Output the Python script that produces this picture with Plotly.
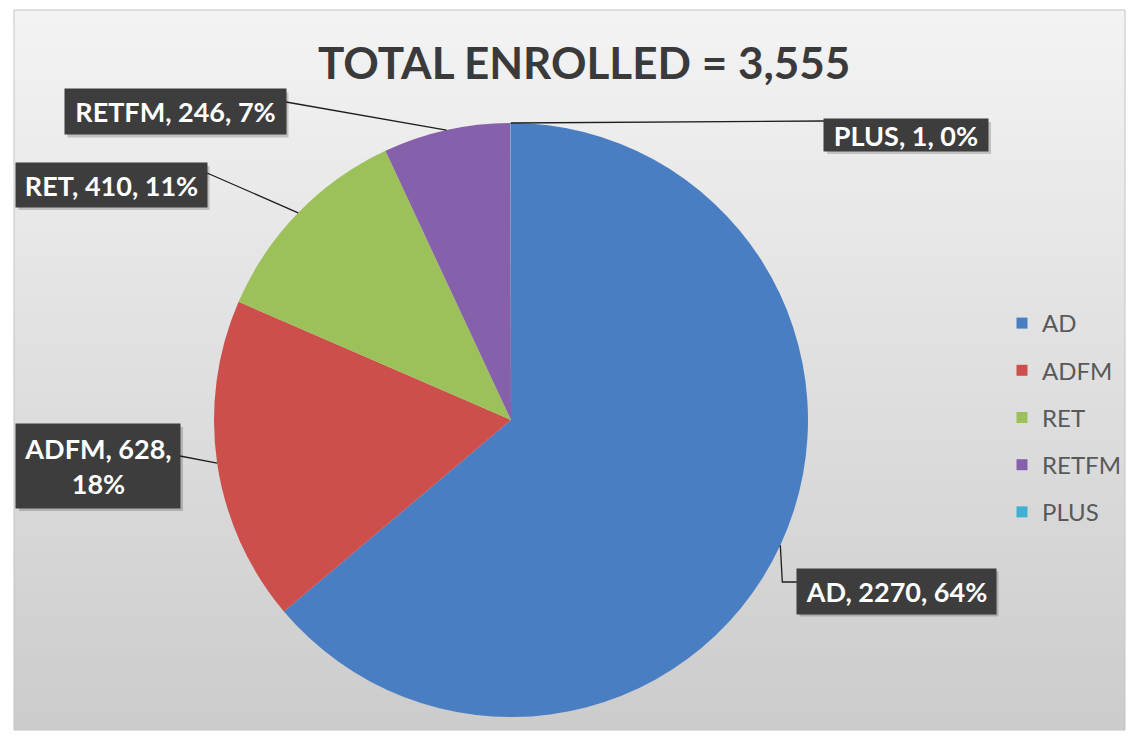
import math
import plotly.graph_objects as go

# Enrollment by program
categories = ["AD", "ADFM", "RET", "RETFM", "PLUS"]
enrolled = [2270, 628, 410, 246, 1]
pct_text = ["64%", "18%", "11%", "7%", "0%"]
colors = ["#4a7ec3", "#cd4f4b", "#9cc15a", "#8660aa", "#3fb0d0"]

W, H = 1132, 741
total = sum(enrolled)

# pie geometry in pixels (from top-left)
CX, CY, R = 511, 420, 297


def px_to_paper(x, y):
    return x / W, 1 - y / H


fig = go.Figure()

fig.add_trace(go.Pie(
    labels=categories,
    values=enrolled,
    sort=False,
    direction="clockwise",
    rotation=0,
    textinfo="none",
    hoverinfo="label+value+percent",
    marker=dict(colors=colors, line=dict(width=0)),
    showlegend=False,
    domain=dict(x=[(CX - R) / W, (CX + R) / W],
                y=[1 - (CY + R) / H, 1 - (CY - R) / H]),
))

# legend entries as empty marker traces so the row spacing can be set
for name, col in zip(categories, colors):
    fig.add_trace(go.Scatter(
        x=[None], y=[None], mode="markers", name=name, legendgroup=name,
        marker=dict(symbol="square", size=11, color=col),
        hoverinfo="skip",
    ))

shapes = []

# soft vertical gradient background inside a light frame
x0, x1, y0, y1 = 14, 1125, 10, 730
steps = 60
top_rgb = (243, 243, 243)
bot_rgb = (204, 204, 204)
for i in range(steps):
    t = i / (steps - 1)
    c = tuple(round(a + (b - a) * t) for a, b in zip(top_rgb, bot_rgb))
    ya = y0 + (y1 - y0) * i / steps
    yb = y0 + (y1 - y0) * (i + 1) / steps + 1
    pa = px_to_paper(x0, ya)
    pb = px_to_paper(x1, min(yb, y1))
    shapes.append(dict(type="rect", xref="paper", yref="paper",
                       x0=pa[0], x1=pb[0], y0=pb[1], y1=pa[1],
                       fillcolor="rgb(%d,%d,%d)" % c, line=dict(width=0),
                       layer="below"))
fa = px_to_paper(x0, y0)
fb = px_to_paper(x1, y1)
shapes.append(dict(type="rect", xref="paper", yref="paper",
                   x0=fa[0], x1=fb[0], y0=fb[1], y1=fa[1],
                   line=dict(color="#c4c4c4", width=1), layer="below"))


# mid-angle point on the rim of each slice
def slice_mid_point(idx):
    before = sum(enrolled[:idx])
    frac = (before + enrolled[idx] / 2) / total
    ang = 2 * math.pi * frac
    return CX + R * math.sin(ang), CY - R * math.cos(ang)


# label boxes: (center x, center y, width, height, anchor on box for leader)
boxes = {
    "AD": (896, 591, 199, 45, (797, 582)),
    "ADFM": (98, 466, 164, 84, (180, 456)),
    "RET": (111, 185, 191, 44, (207, 173)),
    "RETFM": (175, 112, 221, 45, (286, 102)),
    "PLUS": (906, 135, 164, 32, (824, 121)),
}

annotations = []
for i, name in enumerate(categories):
    bx, by, bw, bh, anchor = boxes[name]
    sx, sy = slice_mid_point(i)
    # leader line
    if name == "AD":
        pts = [(sx, sy), (sx + 2, anchor[1]), anchor]
    else:
        pts = [(sx, sy), anchor]
    path = ""
    for k, (qx, qy) in enumerate(pts):
        p = px_to_paper(qx, qy)
        path += ("M" if k == 0 else "L") + " %f,%f " % p
    shapes.append(dict(type="path", xref="paper", yref="paper", path=path,
                       line=dict(color="#1e1e1e", width=1.3), layer="above"))
    # drop shadow behind the box
    s0 = px_to_paper(bx - bw / 2 + 3, by - bh / 2 + 3)
    s1 = px_to_paper(bx + bw / 2 + 3, by + bh / 2 + 3)
    shapes.append(dict(type="rect", xref="paper", yref="paper",
                       x0=s0[0], x1=s1[0], y0=s1[1], y1=s0[1],
                       fillcolor="rgba(0,0,0,0.18)", line=dict(width=0),
                       layer="above"))
    sep = ",<br>" if name == "ADFM" else ", "
    text = f"{name}, {enrolled[i]}{sep}{pct_text[i]}"
    cx, cy = px_to_paper(bx, by)
    annotations.append(dict(
        xref="paper", yref="paper", x=cx, y=cy, xanchor="center",
        yanchor="middle", text=text, showarrow=False,
        width=bw, height=bh, borderpad=0, bgcolor="#3d3d3d",
        font=dict(family="Lato", size=27, color="white", weight="bold"),
        align="center", valign="middle",
    ))

tx, ty = px_to_paper(584, 62)
annotations.append(dict(
    xref="paper", yref="paper", x=tx, y=ty, xanchor="center", yanchor="middle",
    text="TOTAL ENROLLED = 3,555", showarrow=False,
    font=dict(family="Lato", size=44, color="#3a3a3a", weight="bold"),
))

lx, ly = px_to_paper(1002, 301)
fig.update_layout(
    width=W, height=H,
    margin=dict(l=0, r=0, t=0, b=0),
    paper_bgcolor="white",
    plot_bgcolor="rgba(0,0,0,0)",
    xaxis=dict(visible=False),
    yaxis=dict(visible=False),
    shapes=shapes,
    annotations=annotations,
    showlegend=True,
    legend=dict(
        x=lx, y=ly, xanchor="left", yanchor="top",
        bgcolor="rgba(0,0,0,0)",
        font=dict(family="Lato", size=24, color="#595959"),
        tracegroupgap=13, itemwidth=30, traceorder="grouped",
    ),
)

fig.write_html("out.html")
